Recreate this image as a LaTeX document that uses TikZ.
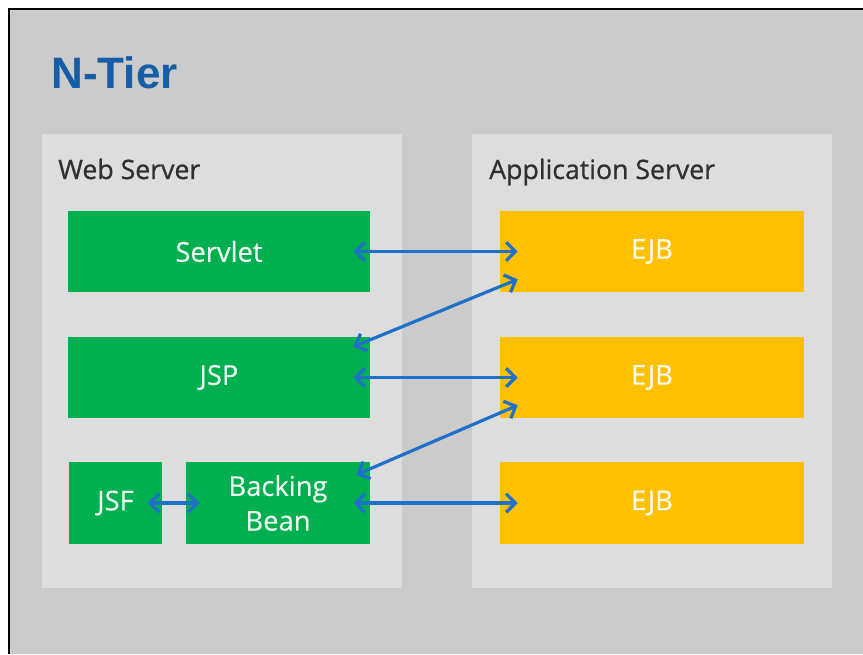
\documentclass[tikz,border=0pt]{standalone}
\usepackage{fontspec}
\setmainfont{Open Sans}
\newfontfamily\titlefont{Liberation Sans}
\newfontfamily\labelfont[FakeBold=0.8]{Open Sans}
\newfontfamily\boxfont[FakeBold=0.3]{Open Sans}
\usetikzlibrary{arrows.meta,calc}

\definecolor{pagegray}{HTML}{CBCBCB}
\definecolor{panelgray}{HTML}{DDDDDD}
\definecolor{titleblue}{HTML}{165DA8}
\definecolor{labelgray}{HTML}{303030}
\definecolor{webgreen}{HTML}{00B050}
\definecolor{ejbyellow}{HTML}{FFC000}
\definecolor{linkblue}{HTML}{1F70C8}

\begin{document}
\begin{tikzpicture}[x=0.75pt,y=-0.75pt,
  panel/.style={fill=panelgray, inner sep=0pt, minimum width=270pt, minimum height=340.5pt},
  panellabel/.style={anchor=base west, inner sep=0pt, text=labelgray,
    font=\labelfont\fontsize{20}{24}\selectfont},
  tierbox/.style={inner sep=0pt, text=white!92!webgreen, align=center,
    font=\boxfont\fontsize{20.5}{26}\selectfont},
  webbox/.style={tierbox, fill=webgreen},
  ejbbox/.style={tierbox, fill=ejbyellow, text=white!95!ejbyellow,
    minimum width=228pt, minimum height=60.75pt},
  link/.style={draw=linkblue, line width=2.4pt,
    {Straight Barb[length=7pt,width=14pt]}-{Straight Barb[length=7pt,width=14pt]}}
]
\useasboundingbox (0,0) rectangle (863,654);
\fill[white] (0,0) rectangle (863,654);
\fill[pagegray] (9,9) rectangle (863,654);
\draw[line width=1.5pt] (9,654) -- (9,9) -- (863,9);

% title
\node[anchor=base west, inner sep=0pt, text=titleblue,
  font=\titlefont\bfseries\fontsize{33}{38}\selectfont] (title) at (51,88) {N-Tier};

% server panels
\node[panel] (web) at (222,361) {};
\node[panel] (app) at (652,361) {};
\node[panellabel] (weblabel) at (58,179) {Web Server};
\node[panellabel] (applabel) at (489,179) {Application Server};

% web tier components
\node[webbox, minimum width=226.5pt, minimum height=60.75pt] (servlet) at (219,251.5) {Servlet};
\node[webbox, minimum width=226.5pt, minimum height=60.75pt] (jsp) at (219,377.5) {JSP};
\node[webbox, minimum width=69.75pt, minimum height=61.5pt] (jsf) at (115.5,503) {JSF};
\node[webbox, minimum width=138pt, minimum height=61.5pt] (bean) at (278,503) {Backing\\Bean};

% application tier components
\node[ejbbox] (ejb1) at (652,251.5) {EJB};
\node[ejbbox] (ejb2) at (652,377.5) {EJB};
\node[ejbbox, minimum height=61.5pt] (ejb3) at (652,503) {EJB};

% end points of the slanted links
\coordinate (jspup) at ($(jsp.north east)+(-17,10)$);
\coordinate (ejb1low) at ($(ejb1.south west)+(18,-13)$);
\coordinate (beanup) at ($(bean.north east)+(-14,13)$);
\coordinate (ejb2low) at ($(ejb2.south west)+(18,-13)$);

% links
\draw[link, shorten <=-12.75pt, shorten >=-13.5pt] (servlet.east) -- (ejb1.west);
\draw[link, shorten <=-12.75pt, shorten >=-13.5pt] (jsp.east) -- (ejb2.west);
\draw[link, shorten <=-12.75pt, shorten >=-13.5pt] (bean.east) -- (ejb3.west);
\draw[link] (jspup) -- (ejb1low);
\draw[link] (beanup) -- (ejb2low);
\draw[link, shorten <=-11pt, shorten >=-10.5pt] (jsf.east) -- (bean.west);
\end{tikzpicture}
\end{document}
